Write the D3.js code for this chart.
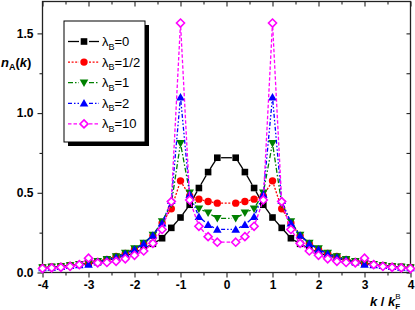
<!DOCTYPE html>
<html lang="en">
<head>
<meta charset="UTF-8">
<title>n_A(k)</title>
<style>
  body { margin: 0; background: #fff; }
  svg { display: block; }
  .tick text { font-family: "Liberation Sans", Arial, sans-serif; font-weight: bold; font-size: 12px; fill: #000; }
  .leg text { font-family: "Liberation Sans", Arial, sans-serif; font-size: 13px; fill: #000; }
  .title { font-family: "Liberation Sans", Arial, sans-serif; font-weight: bold; font-size: 13px; fill: #000; }
</style>
</head>
<body>
<svg id="chart" width="415" height="310"></svg>
<script src="https://cdnjs.cloudflare.com/ajax/libs/d3/7.8.5/d3.min.js"></script>
<script>
// momentum grid k / k_F^B (no point at k = 0)
var kValues = [-4.0,-3.8,-3.6,-3.4,-3.2,-3.0,-2.8,-2.6,-2.4,-2.2,-2.0,-1.8,-1.6,-1.4,-1.2,-1.0,-0.8,-0.6,-0.4,-0.2,
                0.2, 0.4, 0.6, 0.8, 1.0, 1.2, 1.4, 1.6, 1.8, 2.0, 2.2, 2.4, 2.6, 2.8, 3.0, 3.2, 3.4, 3.6, 3.8, 4.0];

var nB0  = [0.031,0.035,0.039,0.044,0.050,0.056,0.065,0.076,0.090,0.105,0.125,0.150,0.180,0.215,0.280,0.345,0.425,0.530,0.630,0.720,
            0.720,0.630,0.530,0.425,0.345,0.280,0.215,0.180,0.150,0.125,0.105,0.090,0.076,0.065,0.056,0.050,0.044,0.039,0.035,0.031];
var nB05 = [0.030,0.034,0.038,0.044,0.051,0.060,0.070,0.082,0.100,0.120,0.145,0.180,0.230,0.310,0.400,0.575,0.480,0.460,0.445,0.435,
            0.435,0.445,0.460,0.480,0.575,0.400,0.310,0.230,0.180,0.145,0.120,0.100,0.082,0.070,0.060,0.051,0.044,0.038,0.034,0.030];
var nB1  = [0.030,0.034,0.038,0.044,0.051,0.060,0.071,0.083,0.100,0.122,0.150,0.185,0.235,0.320,0.430,0.810,0.500,0.400,0.375,0.340,
            0.340,0.375,0.400,0.500,0.810,0.430,0.320,0.235,0.185,0.150,0.122,0.100,0.083,0.071,0.060,0.051,0.044,0.038,0.034,0.030];
var nB2  = [0.028,0.032,0.036,0.042,0.048,0.050,0.066,0.078,0.095,0.117,0.145,0.180,0.232,0.310,0.450,1.100,0.490,0.350,0.300,0.270,
            0.270,0.300,0.350,0.490,1.100,0.450,0.310,0.232,0.180,0.145,0.117,0.095,0.078,0.066,0.050,0.048,0.042,0.036,0.032,0.028];
var nB10 = [0.025,0.029,0.032,0.038,0.049,0.090,0.060,0.063,0.070,0.086,0.108,0.135,0.183,0.270,0.445,1.565,0.455,0.290,0.225,0.190,
            0.190,0.225,0.290,0.455,1.565,0.445,0.270,0.183,0.135,0.108,0.086,0.070,0.063,0.060,0.090,0.049,0.038,0.032,0.029,0.025];

var seriesLabels = ["0", "1/2", "1", "2", "10"];
var xTicks = [-4, -3, -2, -1, 0, 1, 2, 3, 4];
var yTicks = [0, 0.5, 1.0, 1.5];

var series = [
  { label: seriesLabels[0], values: nB0,  color: "#000000", dash: null,              shape: "square" },
  { label: seriesLabels[1], values: nB05, color: "#ff0000", dash: "2,1.6",           shape: "circle" },
  { label: seriesLabels[2], values: nB1,  color: "#008000", dash: "5,2,1.5,2",       shape: "tdown" },
  { label: seriesLabels[3], values: nB2,  color: "#0000ff", dash: "4,2,1.5,2,1.5,2", shape: "tup" },
  { label: seriesLabels[4], values: nB10, color: "#ff00ff", dash: "3.5,2",           shape: "diamond" }
];

var svg = d3.select("#chart");
var L = 42.5, R = 410.5, T = 1.5, B = 272.5;

var x = d3.scaleLinear().domain([-4, 4]).range([L, R]);
var y = d3.scaleLinear().domain([0, 1.7]).range([B, T]);

// axes: outward ticks on left/bottom, inward mirror ticks on top/right
svg.append("g").attr("transform", "translate(0," + B + ")")
  .call(d3.axisBottom(x).tickValues(d3.range(-4, 4.01, 0.5)).tickSize(5).tickPadding(3)
    .tickFormat(function(d) { return xTicks.indexOf(d) >= 0 ? String(d) : ""; }))
  .call(function(g) {
    g.selectAll(".tick line").attr("y2", function(d) { return Number.isInteger(d) ? 5 : 3; });
    g.select(".domain").remove();
  });

svg.append("g").attr("transform", "translate(" + L + ",0)")
  .call(d3.axisLeft(y).tickValues(d3.range(0, 1.71, 0.25)).tickSize(5).tickPadding(4)
    .tickFormat(function(d) { return yTicks.indexOf(d) >= 0 ? d.toFixed(1) : ""; }))
  .call(function(g) {
    g.selectAll(".tick line").attr("x2", function(d) { return (d * 2) % 1 === 0 ? -5 : -3; });
    g.select(".domain").remove();
  });

svg.append("g").attr("transform", "translate(0," + T + ")")
  .call(d3.axisBottom(x).tickValues(d3.range(-4, 4.01, 0.5)).tickSize(5).tickFormat(""))
  .call(function(g) {
    g.selectAll(".tick line").attr("y2", function(d) { return Number.isInteger(d) ? 5 : 3; });
    g.select(".domain").remove();
  });

svg.append("g").attr("transform", "translate(" + R + ",0)")
  .call(d3.axisLeft(y).tickValues(d3.range(0, 1.71, 0.25)).tickSize(4).tickFormat(""))
  .call(function(g) { g.select(".domain").remove(); });

svg.selectAll(".tick line").attr("stroke", "#222").attr("stroke-width", 1.1);

svg.append("rect").attr("x", L).attr("y", T).attr("width", R - L).attr("height", B - T)
  .attr("fill", "none").attr("stroke", "#222").attr("stroke-width", 1.3);

// markers
function marker(g, shape, color, cx, cy) {
  if (shape === "square") {
    g.append("rect").attr("x", cx - 3.3).attr("y", cy - 3.3).attr("width", 6.6).attr("height", 6.6).attr("fill", color);
  } else if (shape === "circle") {
    g.append("circle").attr("cx", cx).attr("cy", cy).attr("r", 3.7).attr("fill", color);
  } else if (shape === "tdown") {
    g.append("path").attr("d", "M" + (cx - 4.3) + "," + (cy - 3.3) + "L" + (cx + 4.3) + "," + (cy - 3.3) + "L" + cx + "," + (cy + 4.2) + "Z").attr("fill", color);
  } else if (shape === "tup") {
    g.append("path").attr("d", "M" + (cx - 4.3) + "," + (cy + 3.3) + "L" + (cx + 4.3) + "," + (cy + 3.3) + "L" + cx + "," + (cy - 4.2) + "Z").attr("fill", color);
  } else if (shape === "diamond") {
    g.append("path").attr("d", "M" + cx + "," + (cy - 4) + "L" + (cx + 4) + "," + cy + "L" + cx + "," + (cy + 4) + "L" + (cx - 4) + "," + cy + "Z")
      .attr("fill", "#fff").attr("stroke", color).attr("stroke-width", 1.6);
  }
}

// lines with small gaps at the markers, then markers
var gap = 3.8;
series.forEach(function(s) {
  var g = svg.append("g");
  var pts = kValues.map(function(k, i) { return [x(k), y(s.values[i])]; });
  for (var i = 0; i < pts.length - 1; i++) {
    var a = pts[i], b = pts[i + 1];
    var dx = b[0] - a[0], dy = b[1] - a[1], len = Math.sqrt(dx * dx + dy * dy);
    if (len <= 2 * gap + 0.5) continue;
    var ux = dx / len, uy = dy / len;
    g.append("line")
      .attr("x1", a[0] + ux * gap).attr("y1", a[1] + uy * gap)
      .attr("x2", b[0] - ux * gap).attr("y2", b[1] - uy * gap)
      .attr("stroke", s.color).attr("stroke-width", 1.3)
      .attr("stroke-dasharray", s.dash);
  }
  pts.forEach(function(p) { marker(g, s.shape, s.color, p[0], p[1]); });
});

// legend with drop shadow
var lx = 64, ly = 21, lw = 81, lh = 121;
svg.append("rect").attr("x", lx + 4).attr("y", ly + 4).attr("width", lw).attr("height", lh).attr("fill", "#000");
svg.append("rect").attr("x", lx).attr("y", ly).attr("width", lw).attr("height", lh)
  .attr("fill", "#fff").attr("stroke", "#000").attr("stroke-width", 1);

var leg = svg.append("g").attr("class", "leg");
series.forEach(function(s, i) {
  var cy = 41.5 + i * 20.6;
  leg.append("line").attr("x1", 68).attr("x2", 79).attr("y1", cy).attr("y2", cy)
    .attr("stroke", s.color).attr("stroke-width", 1.3).attr("stroke-dasharray", s.dash);
  leg.append("line").attr("x1", 89).attr("x2", 99).attr("y1", cy).attr("y2", cy)
    .attr("stroke", s.color).attr("stroke-width", 1.3).attr("stroke-dasharray", s.dash);
  marker(leg, s.shape, s.color, 84, cy);
  var t = leg.append("text").attr("x", 102).attr("y", cy + 4.5);
  t.append("tspan").text("λ");
  t.append("tspan").attr("dy", 3.5).attr("font-size", "9px").text("B");
  t.append("tspan").attr("dy", -3.5).text("=" + s.label);
});

// axis titles
var yt = svg.append("text").attr("class", "title").attr("x", 1).attr("y", 67);
yt.append("tspan").attr("font-style", "italic").text("n");
yt.append("tspan").attr("dy", 3).attr("font-size", "9px").text("A");
yt.append("tspan").attr("dy", -3).text("(");
yt.append("tspan").attr("font-style", "italic").text("k");
yt.append("tspan").text(")");

var xt = svg.append("text").attr("class", "title").attr("x", 370).attr("y", 306);
xt.append("tspan").attr("font-style", "italic").text("k");
xt.append("tspan").text(" / ");
xt.append("tspan").attr("font-style", "italic").text("k");
xt.append("tspan").attr("dy", -7).attr("font-size", "8px").attr("font-weight", "normal").text("B");
xt.append("tspan").attr("dx", -5.5).attr("dy", 10).attr("font-size", "8px").text("F");
</script>
</body>
</html>
